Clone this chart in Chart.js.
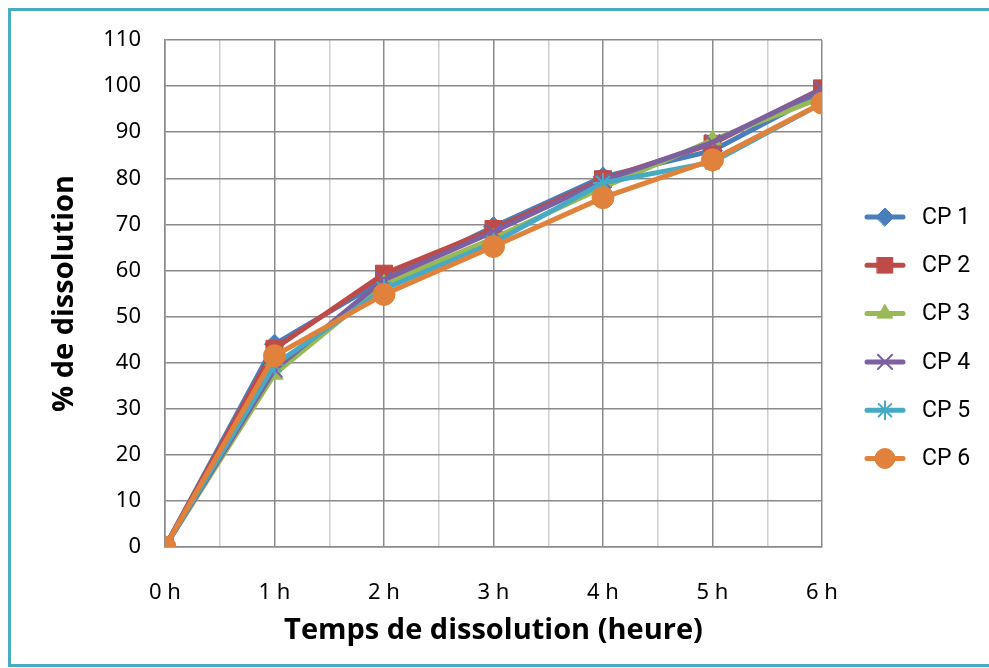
<!DOCTYPE html>
<html>
<head>
<meta charset="utf-8">
<script src="https://cdn.jsdelivr.net/npm/chart.js@4.4.1/dist/chart.umd.min.js"></script>
<style>
  html, body { margin: 0; padding: 0; background: #fff; }
  #wrap { width: 989px; height: 668px; }
</style>
</head>
<body>
<div id="wrap"><canvas id="dissolutionChart" width="989" height="668"></canvas></div>
<script>
// hours on x axis and their labels
const hours = [0, 1, 2, 3, 4, 5, 6];
const hourLabels = ["0 h", "1 h", "2 h", "3 h", "4 h", "5 h", "6 h"];

// % dissolved
const cp1 = [0, 44, 58, 69.5, 80.3, 86, 98.5];
const cp2 = [0, 43, 59.3, 69, 79.8, 87.5, 99.5];
const cp3 = [0, 37.5, 57, 67, 78, 88.3, 97.5];
const cp4 = [0, 38.5, 58, 68.4, 79.5, 87.8, 99.3];
const cp5 = [0, 39.5, 56, 66, 79, 83.5, 96.3];
const cp6 = [0, 41.5, 54.8, 65.2, 75.8, 84, 96.3];

const seriesNames = ["CP 1", "CP 2", "CP 3", "CP 4", "CP 5", "CP 6"];
const yTicks = [0, 10, 20, 30, 40, 50, 60, 70, 80, 90, 100, 110];

const colors = ["#4A7EBB", "#BE4B48", "#98B954", "#7D60A0", "#46AAC5", "#E0823B"];
const pointStyles = ["rectRot", "rect", "triangle", "crossRot", "star", "circle"];
const pointRadii = [10, 12, 10, 11, 10, 11];

const allSeries = [cp1, cp2, cp3, cp4, cp5, cp6];

const datasets = allSeries.map((values, i) => ({
  label: seriesNames[i],
  data: values.map((v, j) => ({ x: hours[j], y: v })),
  borderColor: colors[i],
  backgroundColor: colors[i],
  borderWidth: 5,
  pointStyle: pointStyles[i],
  pointRadius: pointRadii[i],
  pointBorderWidth: (pointStyles[i] === "crossRot" || pointStyles[i] === "star") ? 2 : 1,
  tension: 0,
  order: allSeries.length - 1 - i, // later series on top, like the original
}));

// teal frame around the chart
const framePlugin = {
  id: "frame",
  beforeDraw(chart) {
    const c = chart.ctx;
    c.save();
    c.fillStyle = "#fff";
    c.fillRect(0, 0, chart.width, chart.height);
    c.strokeStyle = "#4BACC6";
    c.lineWidth = 3;
    c.beginPath();
    c.moveTo(995, 9.5);
    c.lineTo(9.5, 9.5);
    c.lineTo(9.5, 665.5);
    c.lineTo(995, 665.5);
    c.stroke();
    c.restore();
  },
};

// legend on the right: a short line with the marker on it
const sideLegend = {
  id: "sideLegend",
  afterDraw(chart) {
    const c = chart.ctx;
    const x0 = 867, x1 = 903, top = 217, step = 48.3;
    c.save();
    seriesNames.forEach((name, i) => {
      const y = top + i * step;
      c.strokeStyle = colors[i];
      c.lineWidth = 5;
      c.lineCap = "round";
      c.beginPath();
      c.moveTo(x0, y);
      c.lineTo(x1, y);
      c.stroke();
      c.fillStyle = colors[i];
      const bw = (pointStyles[i] === "crossRot" || pointStyles[i] === "star") ? 2 : 1;
      c.lineWidth = bw;
      Chart.helpers.drawPoint(c, {
        pointStyle: pointStyles[i],
        radius: pointRadii[i] - 1,
        borderWidth: bw,
        rotation: 0,
      }, (x0 + x1) / 2, y);
      c.fillStyle = "#000";
      c.font = "23px Roboto";
      c.textBaseline = "middle";
      c.textAlign = "left";
      c.fillText(name, 922, y + 1);
    });
    c.restore();
  },
};

const ctx = document.getElementById("dissolutionChart").getContext("2d");
new Chart(ctx, {
  type: "line",
  data: { datasets },
  options: {
    responsive: false,
    animation: false,
    layout: { padding: { left: 0, right: 167, top: 40, bottom: 0 } },
    plugins: {
      legend: { display: false },
      tooltip: { enabled: false },
    },
    scales: {
      x: {
        type: "linear",
        min: 0,
        max: 6,
        afterFit: (scale) => { scale.height = 121; },
        afterBuildTicks: (scale) => {
          const t = [];
          for (let v = 0; v <= 12; v++) t.push({ value: v / 2 });
          scale.ticks = t;
        },
        ticks: {
          autoSkip: false,
          maxRotation: 0,
          padding: 33,
          color: "#000",
          font: { family: "Noto Sans", size: 22 },
          callback: (v) => (Number.isInteger(v) ? hourLabels[hours.indexOf(v)] : ""),
        },
        grid: {
          drawTicks: false,
          color: (c) => (Number.isInteger(c.tick.value) ? "#8a8a8a" : "#cfcfcf"),
          lineWidth: 1.5,
        },
        border: { color: "#8a8a8a", width: 1.5 },
        title: {
          display: true,
          text: "Temps de dissolution (heure)",
          color: "#000",
          font: { family: "Open Sans", size: 29, weight: "bold" },
          padding: { top: 0, bottom: 20 },
        },
      },
      y: {
        min: 0,
        max: 110,
        afterFit: (scale) => { scale.width = 165; },
        afterBuildTicks: (scale) => {
          scale.ticks = yTicks.map((v) => ({ value: v }));
        },
        ticks: {
          padding: 24,
          color: "#000",
          font: { family: "Noto Sans", size: 22 },
        },
        grid: { drawTicks: false, color: "#8a8a8a", lineWidth: 1.5 },
        border: { color: "#8a8a8a", width: 1.5 },
        title: {
          display: true,
          text: "% de dissolution",
          color: "#000",
          font: { family: "Open Sans", size: 29, weight: "bold" },
          padding: { top: 47, bottom: 0 },
        },
      },
    },
  },
  plugins: [framePlugin, sideLegend],
});
</script>
</body>
</html>
